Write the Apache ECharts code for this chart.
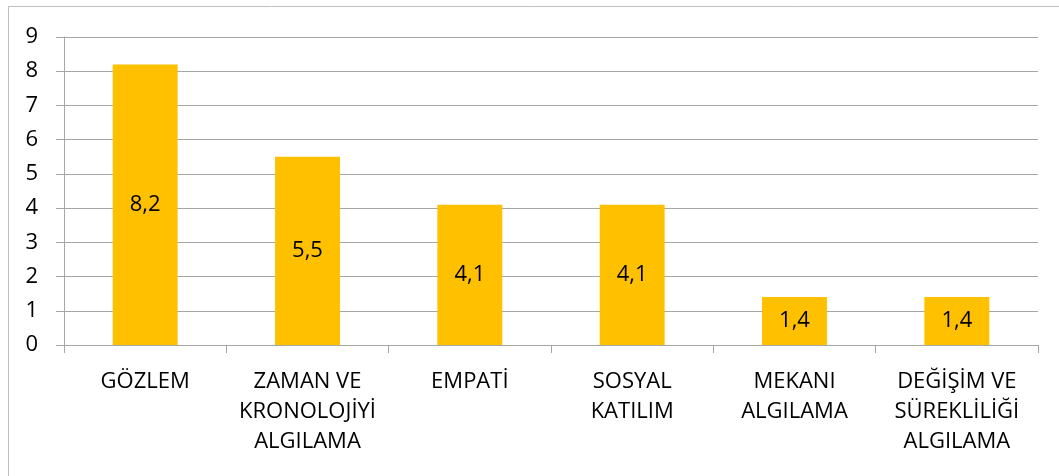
<!DOCTYPE html>
<html>
<head>
<meta charset="utf-8">
<script src="https://cdn.jsdelivr.net/npm/echarts@6/dist/echarts.min.js"></script>
<style>
  html, body { margin: 0; padding: 0; background: #fff; }
  #chart { width: 1059px; height: 476px; }
</style>
</head>
<body>
<div id="chart"></div>
<script>
// kategoriler ve değerler
var categories = [
  'GÖZLEM',
  'ZAMAN VE\nKRONOLOJİYİ\nALGILAMA',
  'EMPATİ',
  'SOSYAL\nKATILIM',
  'MEKANI\nALGILAMA',
  'DEĞİŞİM VE\nSÜREKLİLİĞİ\nALGILAMA'
];
var values = [8.2, 5.5, 4.1, 4.1, 1.4, 1.4];
var yTicks = [0, 1, 2, 3, 4, 5, 6, 7, 8, 9];

var chart = echarts.init(document.getElementById('chart'));
var axisGray = '#a6a6a6';
var font = '"Open Sans", sans-serif';

var option = {
  animation: false,
  graphic: [{
    type: 'rect',
    shape: { x: 8.5, y: 6.5, width: 1200, height: 600 },
    style: { fill: 'none', stroke: '#bfbfbf', lineWidth: 1 },
    silent: true
  }],
  grid: {
    left: 64,
    right: 21,
    top: 37,
    bottom: 131
  },
  xAxis: {
    type: 'category',
    data: categories,
    axisLine: { lineStyle: { color: axisGray, width: 1 } },
    axisTick: { show: true, alignWithLabel: false, length: 8, lineStyle: { color: axisGray } },
    axisLabel: {
      interval: 0,
      margin: 22,
      color: '#000',
      fontFamily: font,
      fontSize: 22,
      lineHeight: 30,
      align: 'center'
    }
  },
  yAxis: {
    type: 'value',
    min: yTicks[0],
    max: yTicks[yTicks.length - 1],
    interval: 1,
    axisLine: { show: true, lineStyle: { color: axisGray, width: 1 } },
    axisTick: { show: true, length: 8, lineStyle: { color: axisGray } },
    splitLine: { show: true, lineStyle: { color: axisGray, width: 1 } },
    axisLabel: {
      margin: 26,
      color: '#000',
      fontFamily: font,
      fontSize: 22
    }
  },
  series: [{
    type: 'bar',
    data: values,
    barWidth: '40%',
    itemStyle: { color: '#FFC000' },
    label: {
      show: true,
      position: 'inside',
      color: '#000',
      fontFamily: font,
      fontSize: 22,
      formatter: function (p) {
        return String(p.value).replace('.', ',');
      }
    }
  }]
};

chart.setOption(option);
</script>
</body>
</html>
